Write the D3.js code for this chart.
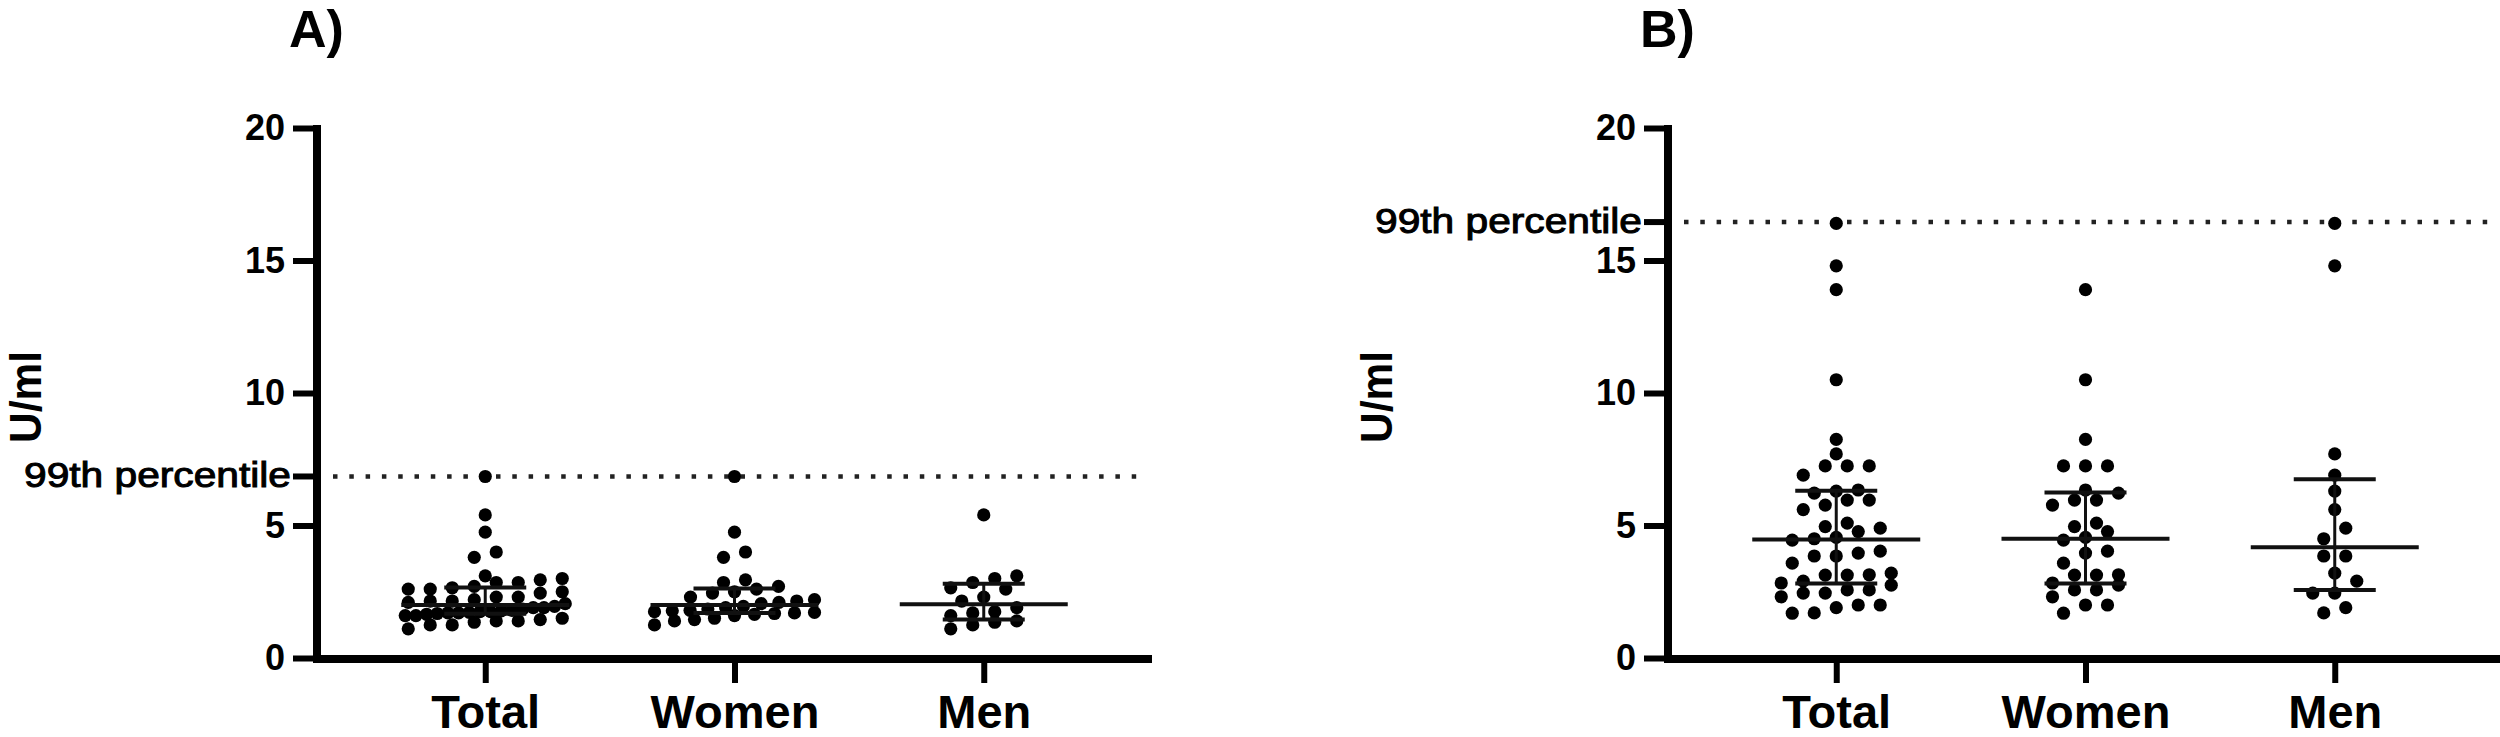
<!DOCTYPE html>
<html>
<head>
<meta charset="utf-8">
<script src="https://cdn.jsdelivr.net/npm/d3@7"></script>
<style>
  html, body { margin: 0; padding: 0; background: #fff; }
  svg { display: block; }
  text { font-family: "Liberation Sans", Arial, Helvetica, sans-serif; fill: #000; }
</style>
</head>
<body>
<svg id="chart" width="2500" height="737"></svg>
<script>
// ---------------- data ----------------
const categories = ["Total", "Women", "Men"];
const yTicks = [0, 5, 10, 15, 20];
const panelTitles = ["A)", "B)"];
const yLabel = "U/ml";
const percentileLabel = "99th percentile";

// Panel A values (U/ml)
const aTotal = [1.1, 1.25, 1.25, 1.35, 1.4, 1.4, 1.45, 1.5, 1.6, 1.6, 1.65, 1.68, 1.7, 1.7, 1.72, 1.75, 1.75,
  1.78, 1.8, 1.85, 1.9, 1.9, 1.95, 2.05, 2.1, 2.15, 2.15, 2.2, 2.3, 2.3, 2.45, 2.5, 2.6, 2.6, 2.65, 2.7,
  2.85, 2.85, 2.95, 3.0, 3.1, 3.8, 4.0, 4.75, 5.4, 6.85];
const aWomen = [1.25, 1.4, 1.45, 1.5, 1.6, 1.65, 1.68, 1.7, 1.72, 1.75, 1.78, 1.8, 1.85, 1.9, 1.95, 2.05,
  2.1, 2.15, 2.2, 2.3, 2.45, 2.5, 2.6, 2.7, 2.85, 2.95, 3.8, 4.0, 4.75, 6.85];
const aMen = [1.1, 1.25, 1.35, 1.4, 1.6, 1.7, 1.75, 1.9, 2.15, 2.3, 2.6, 2.65, 2.85, 3.0, 3.1, 5.4];
const aPercentile = 6.85;

// Panel B values (U/ml)
const bTotal = [1.69, 1.7, 1.9, 2.0, 2.0, 2.31, 2.45, 2.45, 2.57, 2.57, 2.75, 2.83, 2.9, 3.13, 3.13, 3.14,
  3.2, 3.58, 3.85, 3.85, 3.96, 4.03, 4.45, 4.5, 4.55, 4.77, 4.9, 4.96, 5.09, 5.6, 5.77, 5.96, 5.96, 6.22,
  6.3, 6.34, 6.9, 7.25, 7.25, 7.25, 7.7, 8.25, 10.5, 13.9, 14.8, 16.4];
const bWomen = [1.69, 2.0, 2.0, 2.31, 2.57, 2.57, 2.75, 2.83, 3.13, 3.13, 3.14, 3.58, 3.96, 4.03, 4.45,
  4.55, 4.77, 4.96, 5.09, 5.77, 5.96, 5.96, 6.22, 6.34, 7.25, 7.25, 7.25, 8.25, 10.5, 13.9];
const bMen = [1.7, 1.9, 2.45, 2.45, 2.9, 3.2, 3.85, 3.85, 4.5, 4.9, 5.6, 6.3, 6.9, 7.7, 14.8, 16.4];
const bPercentile = 16.45;

const panels = [
  { title: panelTitles[0], groups: [aTotal, aWomen, aMen], percentile: aPercentile, x0: 317 },
  { title: panelTitles[1], groups: [bTotal, bWomen, bMen], percentile: bPercentile, x0: 1668 }
];

// ---------------- layout ----------------
const svg = d3.select("#chart");
svg.append("rect").attr("width", 2500).attr("height", 737).attr("fill", "#fff");

const yTop = 128, yBottom = 658, axisWidth = 835;
const y = d3.scaleLinear().domain([0, 20]).range([yBottom, yTop]);
const R = 6.6, rowH = 13, colStep = 22, maxHalf = 80;

function quantile(sorted, p) {           // (n+1)p method
  const n = sorted.length, pos = (n + 1) * p;
  if (pos <= 1) return sorted[0];
  if (pos >= n) return sorted[n - 1];
  const lo = Math.floor(pos), f = pos - lo;
  return sorted[lo - 1] + f * (sorted[lo] - sorted[lo - 1]);
}

function swarm(values, cx) {
  const pts = values.map(v => ({ v, y: y(v) })).sort((a, b) => b.y - a.y);
  const rows = []; let cur = null;
  pts.forEach(p => {
    if (!cur || cur.y0 - p.y > rowH) { cur = { y0: p.y, pts: [] }; rows.push(cur); }
    cur.pts.push(p);
  });
  rows.forEach(r => {
    const k = r.pts.length;
    const step = k > 1 ? Math.min(colStep, 2 * maxHalf / (k - 1)) : 0;
    r.pts.forEach((p, i) => { p.x = cx + (i - (k - 1) / 2) * step; });
  });
  return pts;
}

panels.forEach(panel => {
  const x0 = panel.x0;
  const x = d3.scalePoint().domain(categories).range([x0, x0 + axisWidth]).padding(0.675);
  const g = svg.append("g");

  // title
  g.append("text").attr("x", x0 - 28).attr("y", 47)
    .style("font-size", "52px").style("font-weight", "bold")
    .text(panel.title);

  // y label
  g.append("text")
    .attr("transform", `translate(${x0 - 276},397) rotate(-90)`)
    .attr("text-anchor", "middle")
    .attr("textLength", 92).attr("lengthAdjust", "spacingAndGlyphs")
    .style("font-size", "44px").style("font-weight", "bold")
    .text(yLabel);

  // dotted percentile line
  g.append("line")
    .attr("x1", x0 + 16).attr("x2", Math.min(x0 + axisWidth - 6, 2500))
    .attr("y1", y(panel.percentile)).attr("y2", y(panel.percentile))
    .attr("stroke", "#222").attr("stroke-width", 4.5).attr("stroke-dasharray", "4.5 11.8");

  // points
  panel.groups.forEach((vals, gi) => {
    const cx = x(categories[gi]);
    const pts = swarm(vals, cx);
    g.append("g").selectAll("circle").data(pts).join("circle")
      .attr("cx", d => d.x).attr("cy", d => d.y).attr("r", R).attr("fill", "#000");

    const s = vals.slice().sort((a, b) => a - b);
    const med = quantile(s, 0.5), q1 = quantile(s, 0.25), q3 = quantile(s, 0.75);
    const lg = g.append("g").attr("stroke", "#111");
    lg.append("line").attr("x1", cx - 84).attr("x2", cx + 84).attr("y1", y(med)).attr("y2", y(med)).attr("stroke-width", 4);
    lg.append("line").attr("x1", cx - 41).attr("x2", cx + 41).attr("y1", y(q3)).attr("y2", y(q3)).attr("stroke-width", 4);
    lg.append("line").attr("x1", cx - 41).attr("x2", cx + 41).attr("y1", y(q1)).attr("y2", y(q1)).attr("stroke-width", 4);
    lg.append("line").attr("x1", cx).attr("x2", cx).attr("y1", y(q3)).attr("y2", y(q1)).attr("stroke-width", 3);
  });

  // y axis
  const yAxis = g.append("g").attr("transform", `translate(${x0},0)`)
    .call(d3.axisLeft(y).tickValues(yTicks).tickSize(24).tickSizeOuter(0).tickPadding(8).tickFormat(d3.format("d")));
  yAxis.select(".domain").attr("stroke", "#000").attr("stroke-width", 8).attr("d", `M0,${yBottom + 4}V${yTop - 3}`);
  yAxis.selectAll(".tick line").attr("stroke", "#000").attr("stroke-width", 6);
  yAxis.selectAll(".tick text").style("font-size", "36px").style("font-weight", "bold").attr("fill", "#000");

  // percentile tick + label
  g.append("line").attr("x1", x0 - 24).attr("x2", x0).attr("y1", y(panel.percentile)).attr("y2", y(panel.percentile))
    .attr("stroke", "#000").attr("stroke-width", 6);
  g.append("text").attr("x", x0 - 26).attr("y", y(panel.percentile) + 11)
    .attr("text-anchor", "end")
    .attr("textLength", 267).attr("lengthAdjust", "spacingAndGlyphs")
    .style("font-size", "35px").attr("stroke", "#000").attr("stroke-width", 1)
    .text(percentileLabel);

  // x axis
  const xAxis = g.append("g").attr("transform", `translate(0,${yBottom + 1})`)
    .call(d3.axisBottom(x).tickSize(24).tickSizeOuter(0).tickPadding(0));
  xAxis.select(".domain").attr("stroke", "#000").attr("stroke-width", 8).attr("d", `M${x0 - 4},0H${x0 + axisWidth}`);
  xAxis.selectAll(".tick line").attr("stroke", "#000").attr("stroke-width", 6);
  xAxis.selectAll(".tick text").attr("y", 69).attr("dy", 0)
    .style("font-size", "47px").style("font-weight", "bold").attr("fill", "#000");
});
</script>
</body>
</html>
